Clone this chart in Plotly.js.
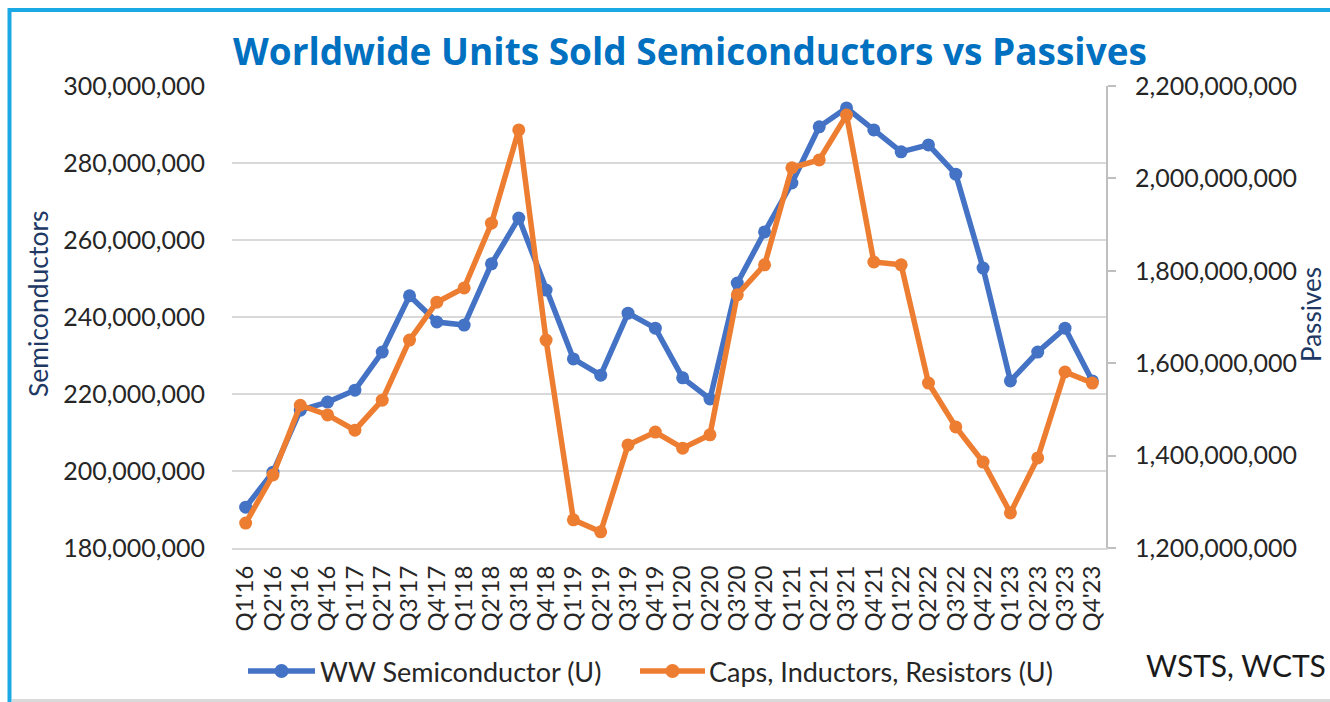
<!DOCTYPE html>
<html>
<head>
<meta charset="utf-8">
<script src="https://cdn.plot.ly/plotly-3.0.1.min.js"></script>
<style>
  html, body { margin: 0; padding: 0; background: #ffffff; }
  #chart { width: 1330px; height: 702px; }
</style>
</head>
<body>
<div id="chart"></div>
<script>
// ---- Data ----
const quarters = ["Q1'16","Q2'16","Q3'16","Q4'16","Q1'17","Q2'17","Q3'17","Q4'17",
                  "Q1'18","Q2'18","Q3'18","Q4'18","Q1'19","Q2'19","Q3'19","Q4'19",
                  "Q1'20","Q2'20","Q3'20","Q4'20","Q1'21","Q2'21","Q3'21","Q4'21",
                  "Q1'22","Q2'22","Q3'22","Q4'22","Q1'23","Q2'23","Q3'23","Q4'23"];

// WW Semiconductor units (left axis)
const semiconductorUnits = [190600000, 199700000, 215800000, 217900000, 221000000, 230900000, 245500000, 238700000,
                            237900000, 253800000, 265700000, 247000000, 229100000, 224900000, 241000000, 237100000,
                            224200000, 218700000, 248800000, 262100000, 274800000, 289400000, 294300000, 288600000,
                            282900000, 284700000, 277100000, 252700000, 223400000, 230900000, 237100000, 223400000];

// Caps, Inductors, Resistors units (right axis)
const passiveUnits = [1254000000, 1358000000, 1509000000, 1488000000, 1455000000, 1520000000, 1650000000, 1732000000,
                      1763000000, 1903000000, 2105000000, 1650000000, 1261000000, 1235000000, 1423000000, 1451000000,
                      1416000000, 1445000000, 1748000000, 1813000000, 2023000000, 2040000000, 2137000000, 1819000000,
                      1813000000, 1557000000, 1462000000, 1386000000, 1276000000, 1395000000, 1581000000, 1557000000];

const seriesNames = ["WW Semiconductor (U)", "Caps, Inductors, Resistors (U)"];
const seriesColors = ['#4472C4', '#ED7D31'];
const chartTitle = "Worldwide Units Sold Semiconductors vs Passives";
const leftAxisTitle = "Semiconductors";
const rightAxisTitle = "Passives";
const sourceNote = "WSTS, WCTS";

// ---- Layout constants ----
const W = 1330, H = 702;
const M = {l: 232, r: 224, t: 86, b: 154};
const FONT = "Lato, 'Open Sans', sans-serif";
const pw = W - M.l - M.r, ph = H - M.t - M.b;
const px2paperX = x => (x - M.l) / pw;
const px2paperY = y => (H - M.b - y) / ph;

const traces = [
  {
    x: quarters, y: semiconductorUnits, name: seriesNames[0],
    type: 'scatter', mode: 'lines+markers', yaxis: 'y',
    line: {color: seriesColors[0], width: 5.5},
    marker: {color: seriesColors[0], size: 13},
    hoverinfo: 'skip'
  },
  {
    x: quarters, y: passiveUnits, name: seriesNames[1],
    type: 'scatter', mode: 'lines+markers', yaxis: 'y2',
    line: {color: seriesColors[1], width: 5.5},
    marker: {color: seriesColors[1], size: 13},
    hoverinfo: 'skip'
  }
];

// ---- Custom legend (line sample + marker + label), positioned like the reference ----
const legendItems = [
  {lineX0: 248, lineX1: 315, textX: 318},
  {lineX0: 640, lineX1: 705, textX: 707}
];
const legendY = 671;
const legendShapes = [];
const legendAnnotations = [];
legendItems.forEach((it, i) => {
  legendShapes.push({
    type: 'line', xref: 'paper', yref: 'paper',
    x0: px2paperX(it.lineX0), x1: px2paperX(it.lineX1),
    y0: px2paperY(legendY), y1: px2paperY(legendY),
    line: {color: seriesColors[i], width: 5.5}, layer: 'above'
  });
  const cx = px2paperX((it.lineX0 + it.lineX1) / 2), cy = px2paperY(legendY);
  legendShapes.push({
    type: 'circle', xref: 'paper', yref: 'paper',
    xsizemode: 'pixel', ysizemode: 'pixel', xanchor: cx, yanchor: cy,
    x0: -7, x1: 7, y0: -7, y1: 7,
    fillcolor: seriesColors[i], line: {color: seriesColors[i], width: 0}, layer: 'above'
  });
  legendAnnotations.push({
    text: seriesNames[i],
    xref: 'paper', yref: 'paper', x: px2paperX(it.textX), y: px2paperY(legendY),
    xanchor: 'left', yanchor: 'middle', showarrow: false,
    font: {family: FONT, size: 27, color: '#262626'}
  });
});

const layout = {
  width: W, height: H,
  margin: M,
  paper_bgcolor: '#ffffff', plot_bgcolor: '#ffffff',
  font: {family: FONT, color: '#262626', size: 24},
  showlegend: false,
  title: {
    text: '<b>' + chartTitle + '</b>',
    font: {family: "'Open Sans', Lato, sans-serif", size: 37, color: '#0070C0'},
    xref: 'container', yref: 'container',
    x: 690 / W, y: 1 - 52 / H, xanchor: 'center', yanchor: 'middle'
  },
  xaxis: {
    type: 'category',
    range: [-0.5, quarters.length - 0.5],
    tickmode: 'linear', tick0: 0, dtick: 1,
    tickangle: -90,
    tickfont: {family: FONT, size: 24, color: '#262626'},
    showgrid: false,
    showline: true, linecolor: '#d9d9d9', linewidth: 2,
    ticks: '',
    ticklabelstandoff: 6,
    fixedrange: true
  },
  yaxis: {
    range: [180000000, 300000000],
    dtick: 20000000,
    tickformat: ',.0f',
    tickfont: {family: FONT, size: 25, color: '#262626'},
    showgrid: true, gridcolor: '#d9d9d9', gridwidth: 2,
    zeroline: false, showline: false,
    ticks: '',
    ticklabelstandoff: 26,
    fixedrange: true
  },
  yaxis2: {
    overlaying: 'y', side: 'right',
    range: [1200000000, 2200000000],
    dtick: 200000000,
    tickformat: ',.0f',
    tickfont: {family: FONT, size: 25, color: '#262626'},
    showgrid: false, zeroline: false,
    showline: true, linecolor: '#bfbfbf', linewidth: 2,
    ticks: 'outside', ticklen: 8, tickwidth: 2, tickcolor: '#bfbfbf',
    ticklabelstandoff: 14,
    fixedrange: true
  },
  annotations: [
    {
      text: leftAxisTitle, textangle: -90,
      xref: 'paper', yref: 'paper', x: px2paperX(38), y: px2paperY(304),
      xanchor: 'center', yanchor: 'middle', showarrow: false,
      font: {family: FONT, size: 26.5, color: '#203864'}
    },
    {
      text: rightAxisTitle, textangle: -90,
      xref: 'paper', yref: 'paper', x: px2paperX(1311), y: px2paperY(315),
      xanchor: 'center', yanchor: 'middle', showarrow: false,
      font: {family: FONT, size: 26, color: '#203864'}
    },
    {
      text: sourceNote,
      xref: 'paper', yref: 'paper', x: px2paperX(1236), y: px2paperY(665),
      xanchor: 'center', yanchor: 'middle', showarrow: false,
      font: {family: FONT, size: 30, color: '#1a1a1a'}
    }
  ].concat(legendAnnotations),
  shapes: [
    // chart frame (top and left in light blue, bottom in light gray)
    {type: 'line', xref: 'paper', yref: 'paper',
     x0: px2paperX(9), x1: px2paperX(1335), y0: px2paperY(10), y1: px2paperY(10),
     line: {color: '#1BA9E6', width: 4}, layer: 'above'},
    {type: 'line', xref: 'paper', yref: 'paper',
     x0: px2paperX(9.5), x1: px2paperX(9.5), y0: px2paperY(8), y1: px2paperY(705),
     line: {color: '#1BA9E6', width: 4}, layer: 'above'},
    {type: 'line', xref: 'paper', yref: 'paper',
     x0: px2paperX(12), x1: px2paperX(1335), y0: px2paperY(700.5), y1: px2paperY(700.5),
     line: {color: '#d9d9d9', width: 3}, layer: 'above'}
  ].concat(legendShapes)
};

Plotly.newPlot('chart', traces, layout, {staticPlot: true, displayModeBar: false});
</script>
</body>
</html>
